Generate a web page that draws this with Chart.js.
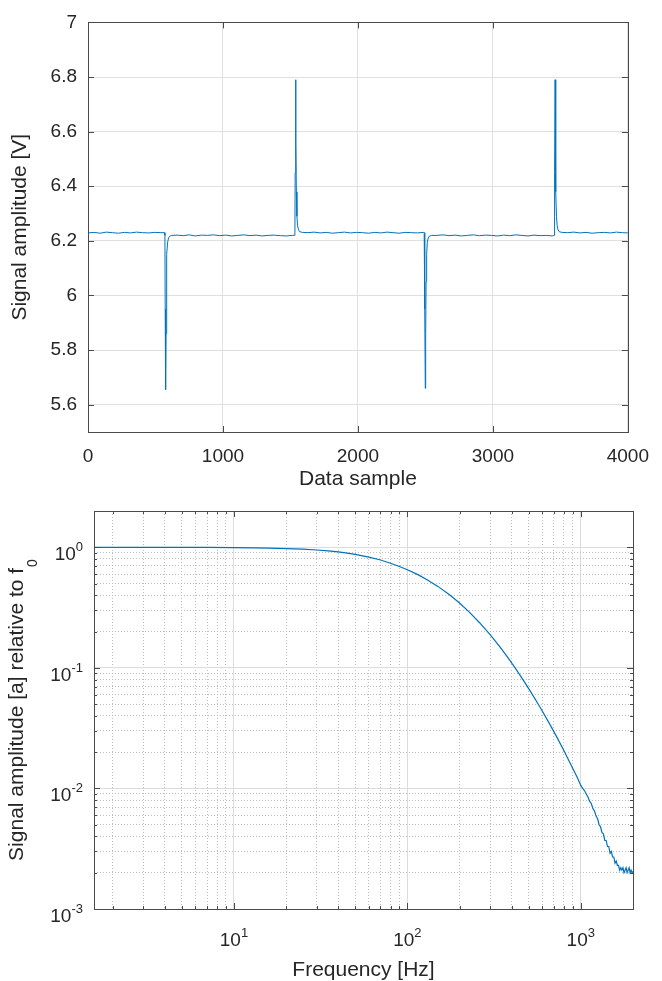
<!DOCTYPE html>
<html>
<head>
<meta charset="utf-8">
<script src="https://cdn.jsdelivr.net/npm/chart.js@4.4.1/dist/chart.umd.min.js"></script>
<style>
  html, body { margin: 0; padding: 0; background: #fff; }
  .wrap { position: absolute; left: 0; width: 662px; }
  #top { top: 0; height: 490px; }
  #bot { top: 490px; height: 491px; }
</style>
</head>
<body>
<div class="wrap" id="top"><canvas id="chartSignal" width="662" height="490"></canvas></div>
<div class="wrap" id="bot"><canvas id="chartFreq" width="662" height="491"></canvas></div>
<script>
// --- top plot: raw signal ---
const sampleIdx = [
  0, 45, 90, 135, 180, 225, 270, 315, 360, 405, 450, 495, 540, 566,
  570, 572, 575, 578, 581, 585, 590, 597, 605, 620,
  660, 705, 750, 795, 840, 885, 930, 975, 1020, 1065, 1110, 1155, 1200, 1245, 1290, 1335, 1380, 1425, 1470, 1515, 1531,
  1533, 1535, 1538, 1541, 1544, 1548, 1553, 1560, 1570, 1590,
  1630, 1675, 1720, 1765, 1810, 1855, 1900, 1945, 1990, 2035, 2080, 2125, 2170, 2215, 2260, 2305, 2350, 2395, 2440, 2485, 2491,
  2494, 2496, 2499, 2502, 2505, 2509, 2514, 2521, 2529, 2545,
  2585, 2630, 2675, 2720, 2765, 2810, 2855, 2900, 2945, 2990, 3035, 3080, 3125, 3170, 3215, 3260, 3305, 3350, 3395, 3440, 3454,
  3456, 3458, 3461, 3464, 3467, 3471, 3476, 3483, 3493, 3513,
  3555, 3600, 3645, 3690, 3735, 3780, 3825, 3870, 3915, 3960, 4000
];
const amplitudeV = [
  6.229, 6.231, 6.228, 6.232, 6.230, 6.228, 6.231, 6.229, 6.232, 6.230, 6.229, 6.231, 6.230, 6.230,
  6.22, 5.95, 5.655, 5.86, 6.05, 6.15, 6.195, 6.211, 6.217, 6.220,
  6.221, 6.219, 6.222, 6.218, 6.221, 6.220, 6.222, 6.219, 6.221, 6.218, 6.220, 6.222, 6.219, 6.221, 6.218, 6.220, 6.221, 6.219, 6.218, 6.220, 6.220,
  6.23, 6.45, 6.79, 6.56, 6.38, 6.29, 6.255, 6.240, 6.233, 6.231,
  6.230, 6.232, 6.229, 6.231, 6.228, 6.230, 6.232, 6.229, 6.231, 6.230, 6.228, 6.231, 6.229, 6.232, 6.230, 6.228, 6.231, 6.230, 6.229, 6.231, 6.230,
  6.22, 5.95, 5.66, 5.86, 6.05, 6.15, 6.195, 6.211, 6.217, 6.220,
  6.220, 6.222, 6.219, 6.221, 6.218, 6.220, 6.222, 6.219, 6.221, 6.220, 6.218, 6.221, 6.219, 6.222, 6.220, 6.218, 6.221, 6.219, 6.220, 6.218, 6.220,
  6.23, 6.45, 6.79, 6.56, 6.38, 6.29, 6.255, 6.240, 6.233, 6.231,
  6.230, 6.232, 6.229, 6.231, 6.228, 6.230, 6.231, 6.229, 6.232, 6.230, 6.229
];
const sampleTicks = [0, 1000, 2000, 3000, 4000];
const voltTicks = [5.6, 5.8, 6, 6.2, 6.4, 6.6, 6.8, 7];

// --- bottom plot: frequency response ---
const freqHz = [
  1.56, 2, 3, 4, 5, 7, 10, 13, 16, 20, 25, 30, 35, 40, 45, 50, 60, 70, 80, 90,
  100, 115, 130, 150, 175, 200, 230, 260, 300, 340, 380, 420, 470, 520, 580, 650, 720, 800, 880, 950,
  1000, 1025, 1050, 1075, 1100, 1125, 1150, 1175, 1200, 1225, 1250, 1275, 1300, 1325, 1350, 1375,
  1400, 1425, 1450, 1475, 1500, 1525, 1550, 1575, 1600, 1625, 1650, 1675, 1700, 1725, 1750, 1775,
  1800, 1825, 1850, 1875, 1900, 1925, 1950, 1975, 2000
];
const relAmp = [
  1.000, 1.000, 0.999, 0.999, 0.998, 0.997, 0.993, 0.989, 0.984, 0.976, 0.964, 0.950, 0.934, 0.915, 0.895, 0.874, 0.830, 0.784, 0.738, 0.693,
  0.652, 0.593, 0.538, 0.474, 0.404, 0.345, 0.286, 0.238, 0.1885, 0.1506, 0.1215, 0.0990, 0.0777, 0.0617, 0.0476, 0.0358, 0.0274, 0.0205, 0.0156, 0.0125,
  0.0106, 0.0100, 0.0096, 0.0090, 0.0085, 0.0078, 0.0075, 0.0068, 0.0065, 0.0059, 0.0056, 0.0050, 0.0048, 0.0043, 0.0042, 0.0037,
  0.0037, 0.0033, 0.0033, 0.0029, 0.0030, 0.0027, 0.0027, 0.0024, 0.0025, 0.0023, 0.0023, 0.0021, 0.0022, 0.0021, 0.0022, 0.0020,
  0.0021, 0.0022, 0.0020, 0.0021, 0.0022, 0.0020, 0.0021, 0.0020, 0.00205
];
const freqGrid = [2, 3, 4, 5, 6, 7, 8, 9, 10, 20, 30, 40, 50, 60, 70, 80, 90, 100, 200, 300, 400, 500, 600, 700, 800, 900, 1000, 2000];
const ampGrid = [0.001, 0.002, 0.003, 0.004, 0.005, 0.006, 0.007, 0.008, 0.009, 0.01, 0.02, 0.03, 0.04, 0.05, 0.06, 0.07, 0.08, 0.09, 0.1, 0.2, 0.3, 0.4, 0.5, 0.6, 0.7, 0.8, 0.9, 1, 2];
const freqLabelExp = [1, 2, 3];
const ampLabelExp = [-3, -2, -1, 0];

const lineBlue = '#0072BD';
const txt = '#262626';
const fam = "'Liberation Sans', Arial, sans-serif";
Chart.defaults.font.family = fam;

function isDecade(v) {
  const l = Math.log10(v);
  return Math.abs(l - Math.round(l)) < 1e-9;
}

// box round the plot + inward tick marks (matlab style)
const axisBox = {
  id: 'axisBox',
  afterDatasetsDraw(chart) {
    const { ctx, chartArea: a, scales } = chart;
    ctx.save();
    ctx.strokeStyle = '#4a4a4a';
    ctx.lineWidth = 1;
    ctx.beginPath();
    scales.x.ticks.forEach(t => {
      const px = Math.round(scales.x.getPixelForValue(t.value)) + 0.5;
      const len = t.major === false ? 3 : 6;
      ctx.moveTo(px, a.bottom); ctx.lineTo(px, a.bottom - len);
      ctx.moveTo(px, a.top); ctx.lineTo(px, a.top + len);
    });
    scales.y.ticks.forEach(t => {
      const py = Math.round(scales.y.getPixelForValue(t.value)) + 0.5;
      const len = t.major === false ? 3 : 6;
      ctx.moveTo(a.left, py); ctx.lineTo(a.left + len, py);
      ctx.moveTo(a.right, py); ctx.lineTo(a.right - len, py);
    });
    ctx.stroke();
    ctx.strokeRect(Math.round(a.left) + 0.5, Math.round(a.top) + 0.5,
      Math.round(a.right - a.left), Math.round(a.bottom - a.top));
    ctx.restore();
  }
};

// 10^n labels and the y title with subscript for the log plot
const logLabels = {
  id: 'logLabels',
  afterDraw(chart) {
    const { ctx, chartArea: a, scales } = chart;
    ctx.save();
    ctx.fillStyle = txt;
    ctx.textBaseline = 'alphabetic';
    ctx.textAlign = 'left';
    const baseFont = '19px ' + fam;
    const expFont = '13px ' + fam;
    function measure(e) {
      ctx.font = baseFont; const w1 = ctx.measureText('10').width;
      ctx.font = expFont; const w2 = ctx.measureText(String(e)).width;
      return [w1, w2];
    }
    function draw(x, y, e, w1) {
      ctx.font = baseFont; ctx.fillText('10', x, y);
      ctx.font = expFont; ctx.fillText(String(e), x + w1, y - 9);
    }
    freqLabelExp.forEach(e => {
      const px = scales.x.getPixelForValue(Math.pow(10, e));
      const [w1, w2] = measure(e);
      draw(px - (w1 + w2) / 2, a.bottom + 37, e, w1);
    });
    ampLabelExp.forEach(e => {
      const py = scales.y.getPixelForValue(Math.pow(10, e));
      const [w1, w2] = measure(e);
      draw(a.left - 11 - (w1 + w2), py + 13, e, w1);
    });

    // y title
    const mainText = 'Signal amplitude [a] relative to f';
    ctx.font = '21px ' + fam;
    const wm = ctx.measureText(mainText).width;
    ctx.font = '14px ' + fam;
    const ws = ctx.measureText('0').width;
    ctx.translate(23, (a.top + a.bottom) / 2);
    ctx.rotate(-Math.PI / 2);
    const x0 = -(wm + ws + 1) / 2;
    ctx.font = '21px ' + fam;
    ctx.fillText(mainText, x0, 0);
    ctx.font = '14px ' + fam;
    ctx.fillText('0', x0 + wm + 1, 14);
    ctx.restore();
  }
};

new Chart(document.getElementById('chartSignal'), {
  type: 'scatter',
  data: {
    datasets: [{
      data: sampleIdx.map((s, i) => ({ x: s, y: amplitudeV[i] })),
      showLine: true,
      borderColor: lineBlue,
      borderWidth: 1,
      pointRadius: 0,
      tension: 0
    }]
  },
  options: {
    responsive: false,
    animation: false,
    layout: { padding: { top: 17, right: 25, left: 0, bottom: 0 } },
    plugins: { legend: { display: false }, tooltip: { enabled: false } },
    scales: {
      x: {
        type: 'linear', min: 0, max: 4000,
        afterBuildTicks: s => { s.ticks = sampleTicks.map(v => ({ value: v })); },
        afterFit: s => { s.height = 58; },
        grid: { color: '#e0e0e0', lineWidth: 1, drawTicks: false },
        border: { display: false },
        ticks: { padding: 13, color: txt, font: { size: 19 }, maxRotation: 0, callback: v => String(v) },
        title: { display: true, text: 'Data sample', color: txt, font: { size: 21, lineHeight: 1 }, padding: { top: 0, bottom: 0 } }
      },
      y: {
        type: 'linear', min: 5.5, max: 7,
        afterBuildTicks: s => { s.ticks = voltTicks.map(v => ({ value: v })); },
        afterFit: s => { s.width = 88; },
        grid: { color: '#e0e0e0', lineWidth: 1, drawTicks: false },
        border: { display: false },
        ticks: { padding: 11, color: txt, font: { size: 19 }, callback: v => String(v) },
        title: { display: true, text: 'Signal amplitude [V]', color: txt, font: { size: 21, lineHeight: 1 }, padding: { top: 10, bottom: 0 } }
      }
    }
  },
  plugins: [axisBox]
});

new Chart(document.getElementById('chartFreq'), {
  type: 'scatter',
  data: {
    datasets: [{
      data: freqHz.map((f, i) => ({ x: f, y: relAmp[i] })),
      showLine: true,
      borderColor: lineBlue,
      borderWidth: 1.2,
      pointRadius: 0,
      tension: 0
    }]
  },
  options: {
    responsive: false,
    animation: false,
    layout: { padding: { top: 21, right: 29, left: 0, bottom: 0 } },
    plugins: { legend: { display: false }, tooltip: { enabled: false } },
    scales: {
      x: {
        type: 'logarithmic', min: 1.56, max: 2000,
        afterBuildTicks: s => { s.ticks = freqGrid.map(v => ({ value: v, major: isDecade(v) })); },
        afterFit: s => { s.height = 72; },
        grid: {
          color: c => (c.tick && c.tick.major) ? '#dcdcdc' : '#bdbdbd',
          lineWidth: 1, drawTicks: false
        },
        border: { display: false, dash: c => (c.tick && !c.tick.major) ? [1, 2] : [] },
        ticks: { display: false },
        title: { display: true, text: 'Frequency [Hz]', color: txt, font: { size: 21, lineHeight: 1 }, padding: { top: 0, bottom: 0 } }
      },
      y: {
        type: 'logarithmic', min: 0.001, max: 2,
        afterBuildTicks: s => { s.ticks = ampGrid.map(v => ({ value: v, major: isDecade(v) })); },
        afterFit: s => { s.width = 94; },
        grid: {
          color: c => (c.tick && c.tick.major) ? '#dcdcdc' : '#bdbdbd',
          lineWidth: 1, drawTicks: false
        },
        border: { display: false, dash: c => (c.tick && !c.tick.major) ? [1, 2] : [] },
        ticks: { display: false }
      }
    }
  },
  plugins: [axisBox, logLabels]
});
</script>
</body>
</html>
